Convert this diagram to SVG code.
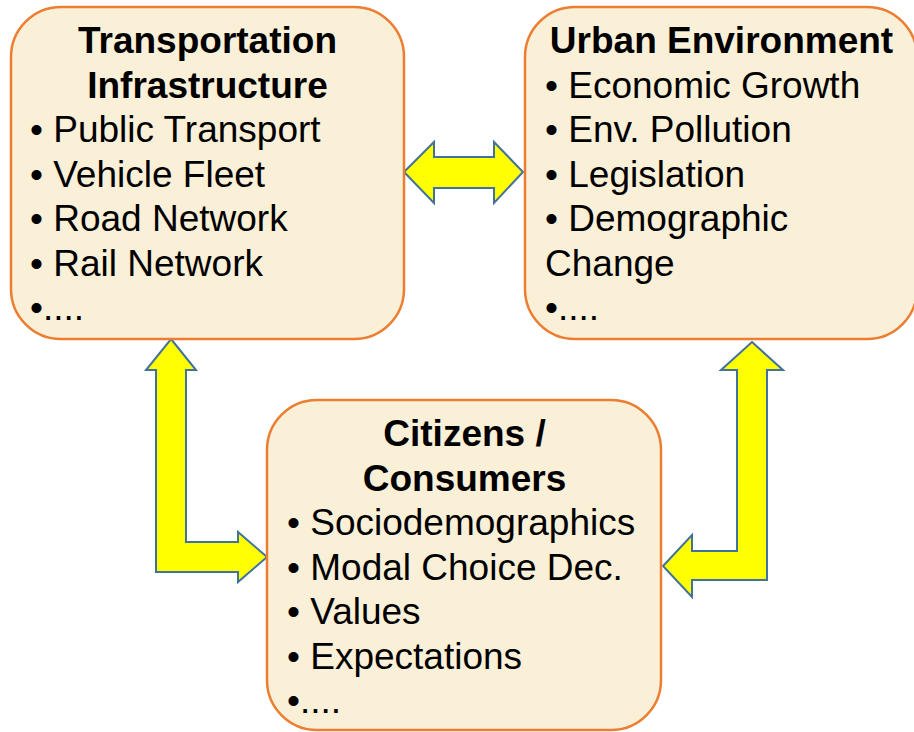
<svg xmlns="http://www.w3.org/2000/svg" width="914" height="732" viewBox="0 0 914 732">
<style>
.box{fill:#FAEFD7;stroke:#ED7D31;stroke-width:2.5}
.arr{fill:#FFFF00;stroke:#41719C;stroke-width:2;stroke-linejoin:miter}
text{font-family:"Liberation Sans",Arial,sans-serif;font-size:37px;fill:#000}
.t{font-weight:bold;text-anchor:middle}
</style>
<rect width="914" height="732" fill="#FFFFFF"/>
<g id="connectors">
<path class="arr" d="M404,172 L434,142 L434,157 L494,157 L494,142 L523,172 L494,203 L494,188 L434,188 L434,203 Z"/>
<path class="arr" d="M171,339 L196,370 L186,370 L186,542 L238,542 L238,532 L267,557 L238,582 L238,572 L156,572 L156,370 L146,370 Z"/>
<path class="arr" d="M752,342 L783,370 L767,370 L767,580 L692,580 L692,597 L663,566 L692,535 L692,551 L737,551 L737,370 L721,370 Z"/>
</g>
<g id="transport">
<rect class="box" x="11" y="7" width="393" height="332" rx="50" ry="50"/>
<text class="t" x="207.5" y="53">Transportation</text>
<text class="t" x="207.5" y="97.5">Infrastructure</text>
<text x="30" y="142">• Public Transport</text>
<text x="30" y="186.5">• Vehicle Fleet</text>
<text x="30" y="231">• Road Network</text>
<text x="30" y="275.5">• Rail Network</text>
<text x="30" y="320">•....</text>
</g>
<g id="urban">
<rect class="box" x="525" y="7" width="392" height="332" rx="50" ry="50"/>
<text class="t" x="721.5" y="53">Urban Environment</text>
<text x="545" y="97.5">• Economic Growth</text>
<text x="545" y="142">• Env. Pollution</text>
<text x="545" y="186.5">• Legislation</text>
<text x="545" y="231">• Demographic</text>
<text x="545" y="275.5">Change</text>
<text x="545" y="320">•....</text>
</g>
<g id="citizens">
<rect class="box" x="267" y="400" width="394" height="330" rx="50" ry="50"/>
<text class="t" x="464.5" y="446">Citizens /</text>
<text class="t" x="464.5" y="490.5">Consumers</text>
<text x="287" y="535">• Sociodemographics</text>
<text x="287" y="579.5">• Modal Choice Dec.</text>
<text x="287" y="624">• Values</text>
<text x="287" y="668.5">• Expectations</text>
<text x="287" y="713">•....</text>
</g>
</svg>
